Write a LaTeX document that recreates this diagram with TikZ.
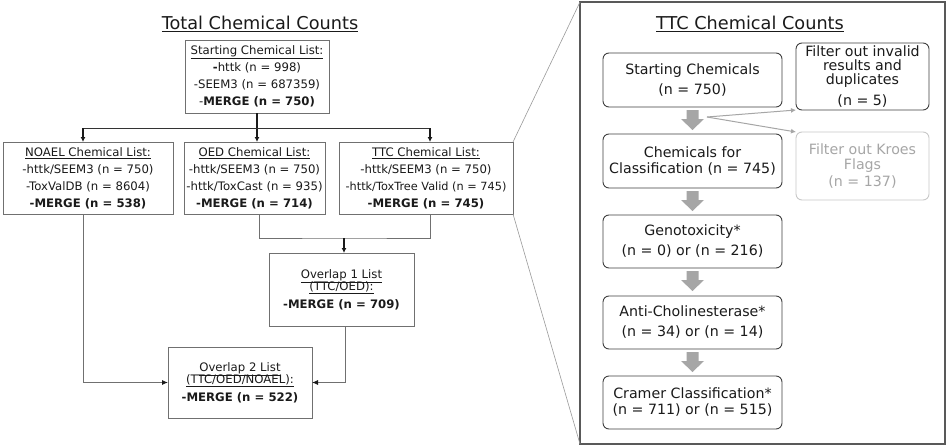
\documentclass[tikz,border=0pt]{standalone}
\usepackage{fontspec}
\setmainfont{DejaVu Sans}
\usetikzlibrary{arrows.meta}

\definecolor{c1a1a1a}{RGB}{26,26,26}
\definecolor{c333333}{RGB}{51,51,51}
\definecolor{c404040}{RGB}{64,64,64}
\definecolor{c595959}{RGB}{89,89,89}
\definecolor{c707070}{RGB}{112,112,112}
\definecolor{c9a9a9a}{RGB}{154,154,154}
\definecolor{ca6a6a6}{RGB}{166,166,166}
\definecolor{cc8c8c8}{RGB}{200,200,200}

\begin{document}
\begin{tikzpicture}[y=-1pt, x=1pt, inner sep=0pt, outer sep=0pt,
  listbox/.style={draw=c707070, line width=0.9pt, align=center, text=c1a1a1a,
    font=\fontsize{11.7}{17}\selectfont},
  stagebox/.style={draw=c404040, line width=0.9pt, rounded corners=6pt, align=center,
    text=c1a1a1a, minimum width=179pt, minimum height=54pt, font=\fontsize{14.2}{20}\selectfont},
  filterbox/.style={stagebox, minimum width=133pt, minimum height=67pt},
  headline/.style={text=c1a1a1a, font=\fontsize{17.7}{21}\selectfont},
  wire/.style={draw=c333333, line width=0.9pt},
  link/.style={draw=c1a1a1a, line width=1.2pt, -{Latex[length=5pt,width=5pt]}},
  feed/.style={draw=c707070, line width=0.9pt, -{Latex[length=6pt,width=5pt,color=c1a1a1a]}},
  zoomline/.style={draw=c9a9a9a, line width=0.6pt},
  sidearrow/.style={draw=ca6a6a6, line width=1pt, -{Latex[length=5pt,width=5pt]}}]
  \path[fill=white] (0,0) rectangle (948,447);
  \path[use as bounding box] (0,0) rectangle (948,447);

  % total chemical counts
  \node[headline] (totaltitle) at (260,24){\underline{Total Chemical Counts}};

  \node[listbox, minimum width=144pt, minimum height=73pt] (startlist) at (257,76.5){\underline{Starting Chemical List:}\\\textbf{-}httk (n = 998)\\-SEEM3 (n = 687359)\\-\textbf{MERGE (n = 750)}};

  \node[listbox, minimum width=170pt, minimum height=72pt] (noaellist) at (88,178){\underline{NOAEL Chemical List:}\\-httk/SEEM3 (n = 750)\\-ToxValDB (n = 8604)\\\textbf{-MERGE (n = 538)}};

  \node[listbox, minimum width=141pt, minimum height=72pt] (oedlist) at (254.5,178){\underline{OED Chemical List:}\\-httk/SEEM3 (n = 750)\\-httk/ToxCast (n = 935)\\\textbf{-MERGE (n = 714)}};

  \node[listbox, minimum width=174pt, minimum height=72pt] (ttclist) at (426,178){\underline{TTC Chemical List:}\\-httk/SEEM3 (n = 750)\\{\fontsize{11.3}{17}\selectfont -httk/ToxTree Valid (n = 745)}\\\textbf{-MERGE (n = 745)}};

  \node[listbox, minimum width=145pt, minimum height=73pt] (overlapone) at (341.5,289.5){\underline{Overlap 1 List}\\[-5pt]\underline{(TTC/OED):}\\[1pt]\textbf{-MERGE (n = 709)}};

  \node[listbox, minimum width=144pt, minimum height=71pt] (overlaptwo) at (240,382.5){\underline{Overlap 2 List}\\[-5pt]\underline{(TTC/OED/NOAEL):}\\[1pt]\textbf{-MERGE (n = 522)}};

  \coordinate (bus) at (257,128);
  \coordinate (join) at (344,238);

  \draw[link] (startlist.south) -- (startlist.south |- oedlist.north);
  \draw[wire] ([xshift=-5pt]noaellist.north |- bus) -- ([xshift=4pt]ttclist.north |- bus);
  \draw[link] ([xshift=-5pt]noaellist.north |- bus) -- ([xshift=-5pt]noaellist.north);
  \draw[link] ([xshift=4pt]ttclist.north |- bus) -- ([xshift=4pt]ttclist.north);

  \draw[wire, draw=c707070] ([xshift=4.5pt]oedlist.south) |- (join) -| ([xshift=4pt]ttclist.south);
  \draw[link] (join) -- (join |- overlapone.north);

  \draw[feed] ([xshift=-5pt]noaellist.south) |- (overlaptwo.west);
  \draw[feed] ([xshift=3.5pt]overlapone.south) |- (overlaptwo.east);

  % ttc chemical counts
  \node[draw=c595959, line width=1.2pt, minimum width=365pt, minimum height=442pt] (ttcpanel) at (762.5,223){};

  \draw[zoomline] (ttclist.north east) -- (ttcpanel.north west);
  \draw[zoomline] (ttclist.south east) -- (ttcpanel.south west);

  \node[headline] (ttctitle) at (750,24){\underline{TTC Chemical Counts}};

  \node[stagebox] (startchem) at (692.5,80){Starting Chemicals\\(n = 750)};
  \node[stagebox] (classchem) at (692.5,161){Chemicals for\\[-4pt]Classification (n = 745)};
  \node[stagebox, minimum height=53pt] (genotox) at (692.5,241.5){Genotoxicity*\\(n = 0) or (n = 216)};
  \node[stagebox, minimum height=53pt] (cholin) at (692.5,322.5){Anti-Cholinesterase*\\(n = 34) or (n = 14)};
  \node[stagebox, minimum height=53pt] (cramer) at (692.5,402.5){Cramer Classification*\\[-4pt](n = 711) or (n = 515)};

  \node[filterbox] (invalid) at (862.5,76.5){Filter out invalid\\[-6pt]results and\\[-6pt]duplicates\\[1pt](n = 5)};
  \node[filterbox, draw=cc8c8c8, text=ca6a6a6, minimum height=68pt] (kroes) at (862.5,166){Filter out Kroes\\[-5pt]Flags\\[-3pt](n = 137)};

  \fill[ca6a6a6] (startchem.south) ++(-6,3) -- ++(12,0) -- ++(0,9) -- ++(5.5,0) -- ++(-11.5,11) -- ++(-11.5,-11) -- ++(5.5,0) -- cycle;
  \fill[ca6a6a6] (classchem.south) ++(-6,3) -- ++(12,0) -- ++(0,9) -- ++(5.5,0) -- ++(-11.5,11) -- ++(-11.5,-11) -- ++(5.5,0) -- cycle;
  \fill[ca6a6a6] (genotox.south) ++(-6,3) -- ++(12,0) -- ++(0,9) -- ++(5.5,0) -- ++(-11.5,11) -- ++(-11.5,-11) -- ++(5.5,0) -- cycle;
  \fill[ca6a6a6] (cholin.south) ++(-6,3) -- ++(12,0) -- ++(0,9) -- ++(5.5,0) -- ++(-11.5,11) -- ++(-11.5,-11) -- ++(5.5,0) -- cycle;

  \coordinate (fork) at (707,117);
  \draw[sidearrow] (fork) -- (invalid.south west);
  \draw[sidearrow] (fork) -- (kroes.north west);

\end{tikzpicture}
\end{document}
